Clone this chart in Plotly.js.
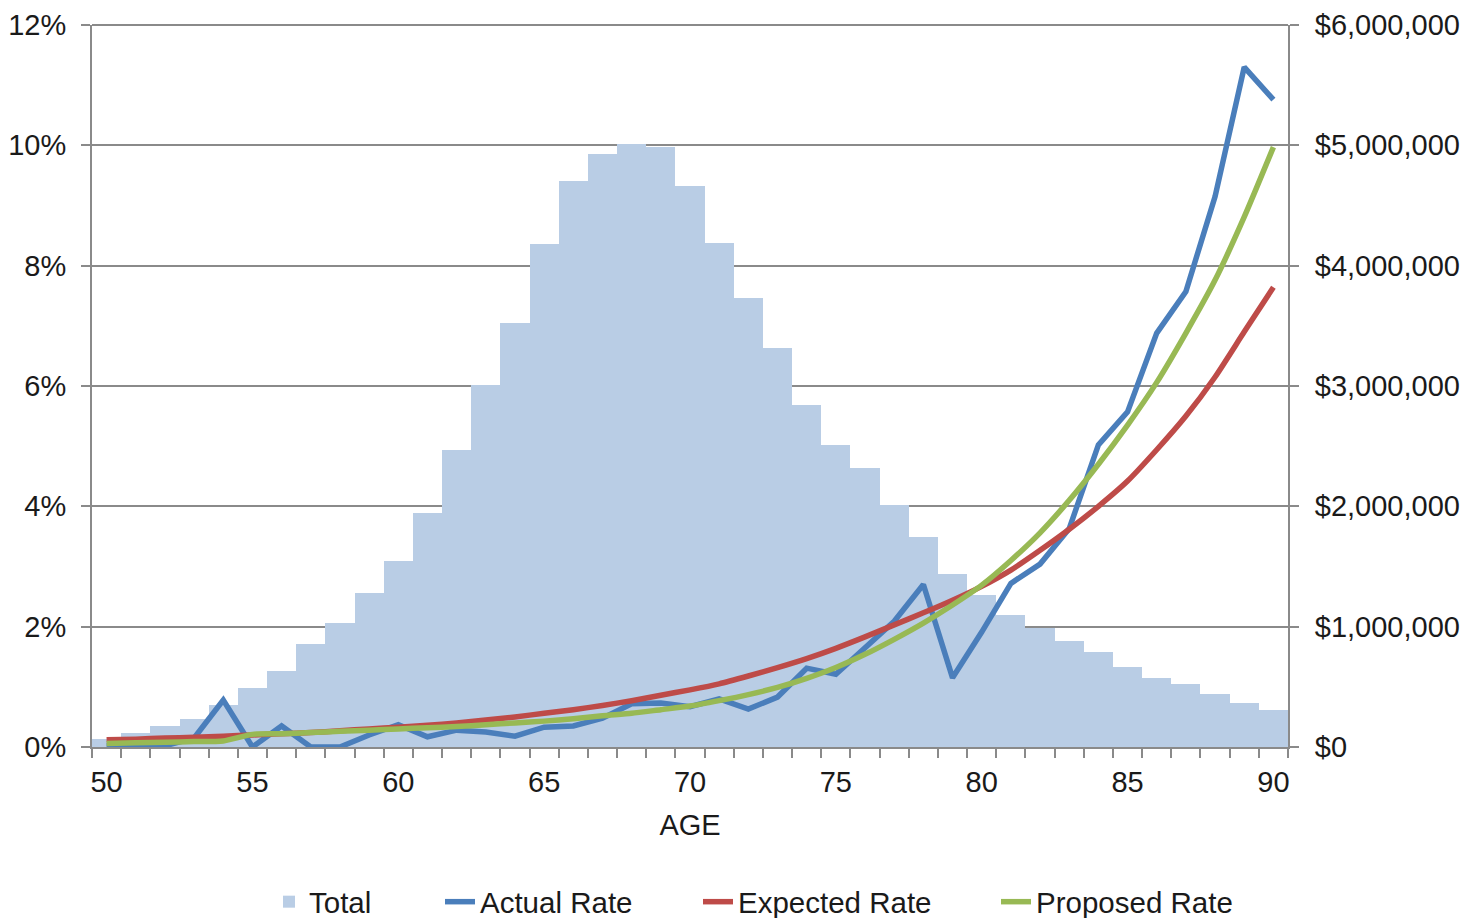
<!DOCTYPE html>
<html>
<head>
<meta charset="utf-8">
<script src="https://cdn.plot.ly/plotly-3.0.1.min.js"></script>
<style>html,body{margin:0;padding:0;background:#fff;}#chart{width:1468px;height:918px;}</style>
</head>
<body>
<div id="chart"></div>
<script>
const ages = [50,51,52,53,54,55,56,57,58,59,60,61,62,63,64,65,66,67,68,69,70,71,72,73,74,75,76,77,78,79,80,81,82,83,84,85,86,87,88,89,90];
const total = [65000,120000,175000,235000,350000,490000,630000,855000,1033000,1277000,1548000,1942000,2466000,3008000,3523000,4180000,4701000,4930000,5013000,4986000,4662000,4186000,3731000,3313000,2842000,2510000,2316000,2011000,1745000,1435000,1263000,1097000,985000,883000,787000,662000,576000,526000,440000,366000,307000];
const actualRate = [0.0002,0.0002,0.0002,0.0015,0.0078,0.0000,0.0035,0.0000,0.0000,0.0020,0.0037,0.0017,0.0028,0.0025,0.0018,0.0033,0.0035,0.0048,0.0072,0.0073,0.0067,0.0080,0.0063,0.0083,0.0131,0.0121,0.0166,0.0209,0.0270,0.0115,0.0191,0.0272,0.0304,0.0363,0.0502,0.0557,0.0688,0.0757,0.0915,0.1130,0.1076];
const expectedRate = [0.0012,0.0013,0.0015,0.0016,0.0018,0.0020,0.0022,0.0024,0.0027,0.0030,0.0033,0.0036,0.0040,0.0045,0.0050,0.0056,0.0062,0.0069,0.0077,0.0086,0.0095,0.0105,0.0118,0.0132,0.0147,0.0164,0.0183,0.0203,0.0223,0.0244,0.0267,0.0294,0.0327,0.0362,0.0400,0.0442,0.0494,0.0550,0.0615,0.0690,0.0764];
const proposedRate = [0.0006,0.0007,0.0008,0.0009,0.0010,0.0021,0.0022,0.0024,0.0026,0.0028,0.0030,0.0032,0.0034,0.0037,0.0040,0.0043,0.0047,0.0052,0.0056,0.0062,0.0068,0.0077,0.0087,0.0099,0.0114,0.0132,0.0154,0.0179,0.0206,0.0236,0.0269,0.0310,0.0356,0.0410,0.0470,0.0535,0.0606,0.0688,0.0776,0.0881,0.0997];

const FONT = 'Liberation Sans, Arial, sans-serif';
const GRID = '#8a8a8a';
const TICKSIZE = 29;
const LEGSIZE = 29.5;

const traces = [
  {type:'bar', name:'Total', x:ages, y:total, yaxis:'y', legend:'legend', marker:{color:'#B9CDE5', line:{width:0}}},
  {type:'scatter', mode:'lines', name:'Actual Rate', x:ages, y:actualRate, yaxis:'y2', legend:'legend2', line:{color:'#4A7EBB', width:5.5}},
  {type:'scatter', mode:'lines', name:'Expected Rate', x:ages, y:expectedRate, yaxis:'y2', legend:'legend3', line:{color:'#BE4B48', width:5.5, shape:'spline', smoothing:0.6}},
  {type:'scatter', mode:'lines', name:'Proposed Rate', x:ages, y:proposedRate, yaxis:'y2', legend:'legend4', line:{color:'#98B954', width:5.5, shape:'spline', smoothing:0.6}}
];

function leg(x){
  return {orientation:'h', xref:'container', yref:'container', x:x/1468, xanchor:'left', y:1-902/918, yanchor:'middle',
          font:{size:LEGSIZE, color:'#1a1a1a'}, bgcolor:'rgba(0,0,0,0)', borderwidth:0};
}

const layout = {
  width:1468, height:918,
  margin:{l:92, r:180, t:25, b:171},
  paper_bgcolor:'#fff', plot_bgcolor:'#fff',
  font:{family:FONT, size:TICKSIZE, color:'#1a1a1a'},
  showlegend:true,
  bargap:0,
  xaxis:{
    range:[49.5,90.5], tickmode:'linear', tick0:50, dtick:5,
    ticks:'', showgrid:false, zeroline:false,
    showline:true, linecolor:GRID, linewidth:2,
    ticklabelstandoff:8,
    minor:{tickmode:'linear', tick0:49.5, dtick:1, ticks:'outside', ticklen:9, tickcolor:GRID, tickwidth:2, showgrid:false},
    title:{text:'AGE', font:{size:TICKSIZE}, standoff:18}
  },
  yaxis:{
    side:'right', range:[0,6000000], tickmode:'linear', tick0:0, dtick:1000000,
    tickformat:'$,.0f', showgrid:true, gridcolor:GRID, gridwidth:2,
    zeroline:false, showline:true, linecolor:GRID, linewidth:2,
    ticks:'outside', ticklen:9, tickcolor:GRID, tickwidth:2, ticklabelstandoff:10
  },
  yaxis2:{
    side:'left', overlaying:'y', range:[0,0.12], tickmode:'linear', tick0:0, dtick:0.02,
    tickformat:'.0%', showgrid:false, zeroline:false,
    showline:true, linecolor:GRID, linewidth:2,
    ticks:'outside', ticklen:9, tickcolor:GRID, tickwidth:2, ticklabelstandoff:9
  },
  legend:leg(269),
  legend2:leg(440),
  legend3:leg(698),
  legend4:leg(996),
  shapes:[{type:'line', xref:'paper', yref:'paper', x0:0, x1:1, y0:1, y1:1, line:{color:GRID, width:2}, layer:'below'}]
};

Plotly.newPlot('chart', traces, layout, {staticPlot:true, displayModeBar:false});
</script>
</body>
</html>
